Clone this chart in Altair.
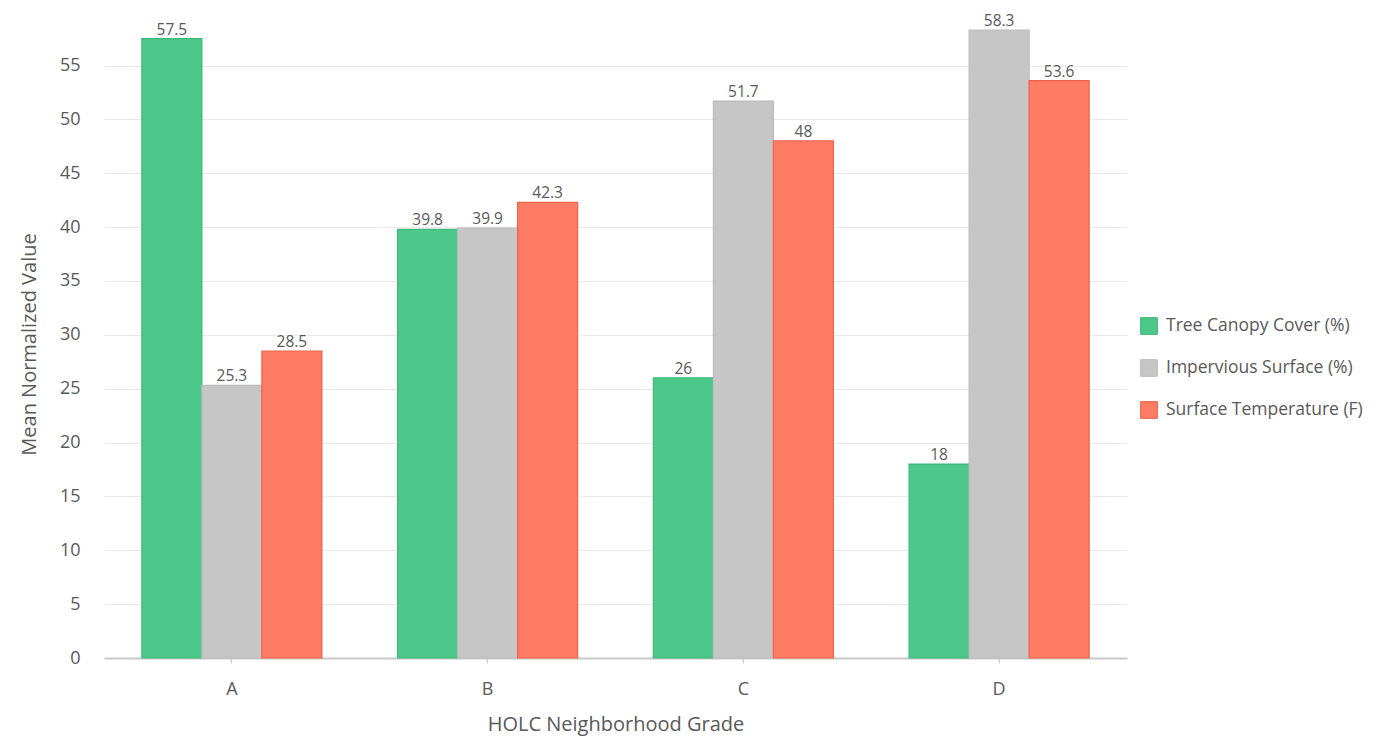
import altair as alt
import pandas as pd

grades = ["A", "B", "C", "D"]
series = ["Tree Canopy Cover (%)", "Impervious Surface (%)", "Surface Temperature (F)"]
tree = [57.5, 39.8, 26, 18]
imperv = [25.3, 39.9, 51.7, 58.3]
temp = [28.5, 42.3, 48, 53.6]
fills = ["#4cc88a", "#c6c6c6", "#fd7c63"]
strokes = ["#3cb979", "#bcbcbc", "#f0624b"]

rows = []
for s, vals in zip(series, [tree, imperv, temp]):
    for g, v in zip(grades, vals):
        rows.append({"grade": g, "series": s, "value": v, "label": f"{v:g}"})
df = pd.DataFrame(rows)

FONT = "Open Sans"
TXT = "#595959"

x = alt.X("grade:N", title="HOLC Neighborhood Grade",
          scale=alt.Scale(paddingInner=0.296, paddingOuter=0.148),
          axis=alt.Axis(labelAngle=0, labelFontSize=18, labelColor=TXT, labelFont=FONT,
                        titleFontSize=20, titleColor=TXT, titleFont=FONT, titleFontWeight="normal",
                        domainColor="#c8c8c8", domainWidth=2, tickColor="#c8c8c8", tickSize=5,
                        labelPadding=17, titlePadding=16, grid=False))
y = alt.Y("value:Q", title="Mean Normalized Value",
          scale=alt.Scale(domain=[0, 58.3], nice=False),
          axis=alt.Axis(values=list(range(0, 60, 5)), labelFontSize=18, labelColor=TXT, labelFont=FONT,
                        titleFontSize=20, titleColor=TXT, titleFont=FONT, titleFontWeight="normal",
                        domain=False, ticks=False, labelPadding=24, titlePadding=20,
                        gridColor="#e9e9e9", gridWidth=1))

base = alt.Chart(df).encode(
    x=x,
    xOffset=alt.XOffset("series:N", sort=series),
)

bars = base.mark_bar(strokeWidth=1.2).encode(
    y=y,
    color=alt.Color("series:N", sort=series, scale=alt.Scale(domain=series, range=fills),
                    legend=alt.Legend(title=None, orient="none", legendX=1036, legendY=287,
                                      symbolType="square", symbolSize=280, symbolStrokeWidth=1,
                                      labelFontSize=17.5, labelColor=TXT, labelFont=FONT, labelLimit=400,
                                      rowPadding=20, labelOffset=8)),
    stroke=alt.Stroke("series:N", sort=series, scale=alt.Scale(domain=series, range=strokes), legend=None),
)

labels = base.mark_text(dy=-4, fontSize=15.5, color=TXT, font=FONT, baseline="alphabetic").encode(
    y=alt.Y("value:Q", scale=alt.Scale(domain=[0, 58.3], nice=False)),
    text="label:N",
)

chart = alt.layer(bars, labels).properties(
    width=1023, height=628,
    padding={"left": 96, "top": 22, "right": 250, "bottom": 80},
    autosize=alt.AutoSizeParams(type="none"),
).configure(font=FONT).configure_view(strokeWidth=0)

chart.save("out.html", embed_options={"renderer": "svg", "actions": False})
